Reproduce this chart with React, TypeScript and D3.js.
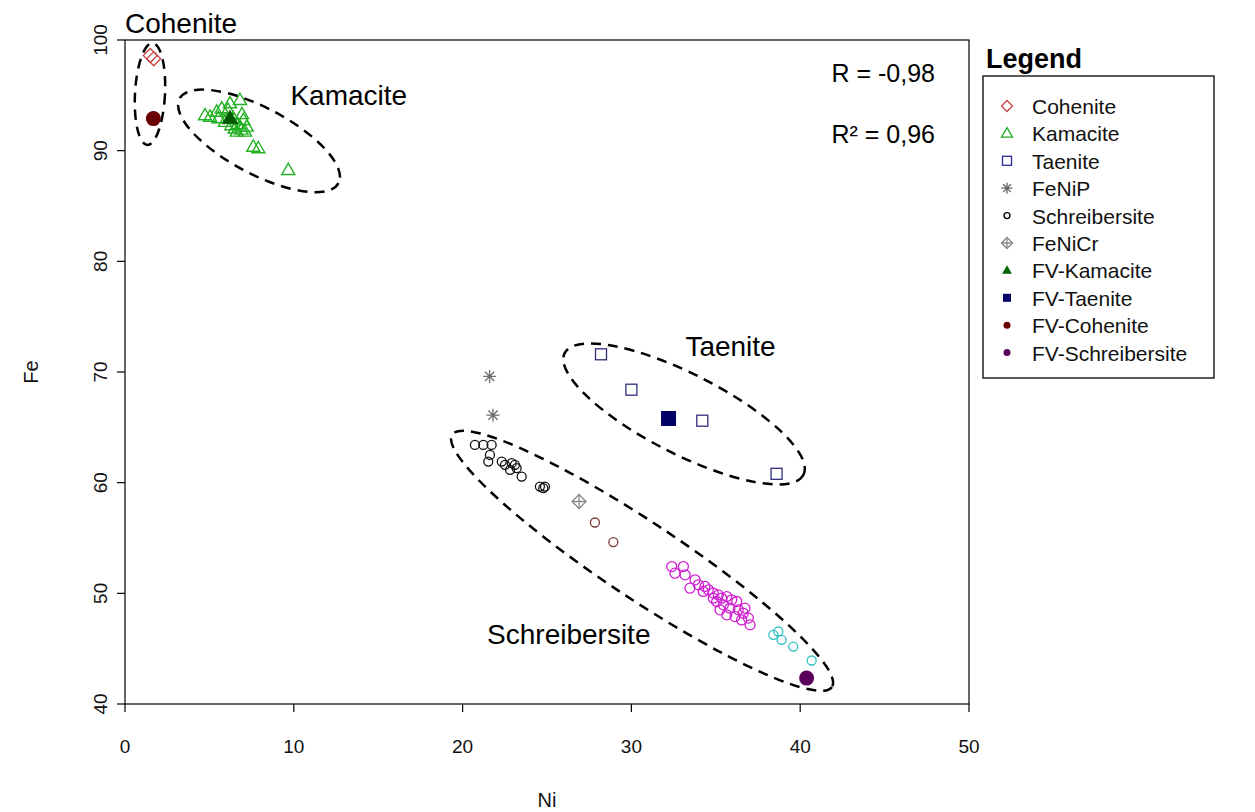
import React from 'react';
import * as d3 from 'd3';

const W = 1255;
const H = 812;

const xTicks = [0, 10, 20, 30, 40, 50];
const yTicks = [40, 50, 60, 70, 80, 90, 100];

type P = [number, number];

const cohenite: P[] = [[1.5, 98.6], [1.7, 98.3]];
const kamacite: P[] = [
  [5.04, 93.07], [5.43, 93.52], [5.73, 93.83], [6.22, 94.28], [6.81, 94.58],
  [5.53, 92.93], [6.42, 92.93], [7.01, 92.77], [6.81, 92.17], [7.21, 92.17],
  [6.62, 91.72], [7.11, 91.72], [7.6, 90.36], [7.9, 90.22], [9.67, 88.26],
  [5.92, 92.6], [6.69, 92.4], [4.74, 93.2], [6.1, 93.7], [6.93, 93.3],
  [6.5, 92.0], [6.3, 92.3], [6.9, 91.9],
];
const taenite: P[] = [[28.2, 71.6], [30.0, 68.4], [34.2, 65.6], [38.6, 60.8]];
const feNiP: P[] = [[21.6, 69.6], [21.8, 66.1]];
const schreibersite: P[] = [
  [20.73, 63.41], [21.23, 63.41], [21.72, 63.41], [21.62, 62.51], [21.52, 61.91],
  [22.32, 61.91], [22.51, 61.61], [22.81, 61.16], [23.1, 61.61], [23.2, 61.31],
  [22.91, 61.76], [23.5, 60.55], [24.58, 59.65], [24.88, 59.65], [24.78, 59.5],
];
const schreibersiteBrown: P[] = [[27.84, 56.4], [28.93, 54.63]];
const schreibersiteMagenta: P[] = [
  [32.39, 52.42], [33.08, 52.42], [32.58, 51.82], [33.18, 51.67], [33.77, 51.22],
  [33.97, 50.77], [33.47, 50.47], [34.26, 50.17], [34.56, 50.32], [34.85, 50.02],
  [35.15, 49.86], [35.35, 49.56], [35.65, 49.71], [35.94, 49.41], [36.24, 49.26],
  [35.05, 49.26], [35.45, 48.96], [35.84, 48.66], [36.33, 48.51], [36.73, 48.66],
  [35.65, 48.06], [36.14, 47.9], [36.53, 47.6], [36.93, 47.76], [37.03, 47.15],
  [34.36, 50.62], [34.85, 49.56], [36.63, 48.21], [35.25, 48.51],
];
const schreibersiteCyan: P[] = [[38.41, 46.25], [38.7, 46.55], [38.9, 45.8], [39.59, 45.19], [40.68, 43.93]];
const feNiCr: P[] = [[26.9, 58.3]];
const fvKamacite: P[] = [[6.22, 92.93]];
const fvTaenite: P[] = [[32.2, 65.8]];
const fvCohenite: P[] = [[1.68, 92.9]];
const fvSchreibersite: P[] = [[40.38, 42.34]];

const legendNames = ['Cohenite', 'Kamacite', 'Taenite', 'FeNiP', 'Schreibersite', 'FeNiCr', 'FV-Kamacite', 'FV-Taenite', 'FV-Cohenite', 'FV-Schreibersite'];

// annotation ellipses: center in data units
const ellipseCenters: P[] = [[1.48, 95.12], [7.94, 90.88], [33.12, 66.21], [30.63, 52.94]];
const ellipseNames = ['Cohenite', 'Kamacite', 'Taenite', 'Schreibersite'];
const labelPos: P[] = [[0, 100.65], [9.8, 94.15], [33.2, 71.45], [21.45, 45.45]];

const FONT = "'Liberation Sans', Arial, Helvetica, sans-serif";

type Shape = 'diamond' | 'triangle' | 'square' | 'asterisk' | 'circle' | 'diamondPlus' | 'triFill' | 'sqFill' | 'circFill';

function Marker({ shape, cx, cy, s, color, sw = 1.3 }: { shape: Shape; cx: number; cy: number; s: number; color: string; sw?: number }) {
  const h = s / 2;
  switch (shape) {
    case 'diamond':
      return <path d={`M${cx},${cy - h}L${cx + h},${cy}L${cx},${cy + h}L${cx - h},${cy}Z`} fill="none" stroke={color} strokeWidth={sw} />;
    case 'diamondPlus':
      return (
        <g stroke={color} strokeWidth={sw} fill="none">
          <path d={`M${cx},${cy - h}L${cx + h},${cy}L${cx},${cy + h}L${cx - h},${cy}Z`} />
          <path d={`M${cx - h},${cy}L${cx + h},${cy}M${cx},${cy - h}L${cx},${cy + h}`} />
        </g>
      );
    case 'triangle':
    case 'triFill': {
      const th = s * 0.866;
      const d = `M${cx},${cy - th * 0.6}L${cx + h},${cy + th * 0.4}L${cx - h},${cy + th * 0.4}Z`;
      return shape === 'triangle'
        ? <path d={d} fill="none" stroke={color} strokeWidth={sw} />
        : <path d={d} fill={color} stroke={color} strokeWidth={0.5} />;
    }
    case 'square':
      return <rect x={cx - h} y={cy - h} width={s} height={s} fill="none" stroke={color} strokeWidth={sw} />;
    case 'sqFill':
      return <rect x={cx - h} y={cy - h} width={s} height={s} fill={color} />;
    case 'circle':
      return <circle cx={cx} cy={cy} r={h} fill="none" stroke={color} strokeWidth={sw} />;
    case 'circFill':
      return <circle cx={cx} cy={cy} r={h} fill={color} />;
    case 'asterisk': {
      const d2 = h * 0.707;
      return (
        <path
          d={`M${cx - h},${cy}L${cx + h},${cy}M${cx},${cy - h}L${cx},${cy + h}M${cx - d2},${cy - d2}L${cx + d2},${cy + d2}M${cx - d2},${cy + d2}L${cx + d2},${cy - d2}`}
          stroke={color}
          strokeWidth={sw}
        />
      );
    }
  }
  return null;
}

const legendShapes: Shape[] = ['diamond', 'triangle', 'square', 'asterisk', 'circle', 'diamondPlus', 'triFill', 'sqFill', 'circFill', 'circFill'];
const legendColors = ['#cc4444', '#22aa22', '#2a2a99', '#666666', '#000000', '#888888', '#006400', '#000066', '#6b0000', '#5a005a'];
const legendSizes = [11, 11, 9, 11, 6, 11, 9, 8, 7, 7];

export default function App() {
  const x = d3.scaleLinear().domain([0, 50]).range([125, 969]);
  const y = d3.scaleLinear().domain([40, 100]).range([704, 40]);

  const ellipseR: [number, number, number][] = [
    [15, 51, 3],
    [90, 33, 28],
    [134, 40, 27],
    [228, 38, 33.6],
  ];

  const series: { data: P[]; shape: Shape; color: string; s: number; sw?: number }[] = [
    { data: cohenite, shape: 'diamond', color: '#cc4444', s: 14 },
    { data: kamacite, shape: 'triangle', color: '#22b022', s: 13, sw: 1.4 },
    { data: taenite, shape: 'square', color: '#2e2e7a', s: 11 },
    { data: feNiP, shape: 'asterisk', color: '#6e6e6e', s: 13 },
    { data: schreibersite, shape: 'circle', color: '#111111', s: 9 },
    { data: schreibersiteBrown, shape: 'circle', color: '#7a3a3a', s: 9 },
    { data: schreibersiteMagenta, shape: 'circle', color: '#d020d0', s: 10 },
    { data: schreibersiteCyan, shape: 'circle', color: '#30c0c0', s: 9 },
    { data: feNiCr, shape: 'diamondPlus', color: '#8a8a8a', s: 14 },
    { data: fvKamacite, shape: 'triFill', color: '#005a00', s: 16 },
    { data: fvTaenite, shape: 'sqFill', color: '#000066', s: 15 },
    { data: fvCohenite, shape: 'circFill', color: '#6b0000', s: 15 },
    { data: fvSchreibersite, shape: 'circFill', color: '#5a005a', s: 15 },
  ];

  const [x0, x1] = x.range();
  const [y0, y1] = y.range();

  return (
    <svg width={W} height={H} style={{ position: 'absolute', left: 0, top: 0, background: '#fff' }} fontFamily={FONT}>
      <rect x={0} y={0} width={W} height={H} fill="#fff" />
      {/* plot box */}
      <rect x={x0} y={y1} width={x1 - x0} height={y0 - y1} fill="none" stroke="#000" strokeWidth={1.2} />
      {/* x axis */}
      {xTicks.map((t) => (
        <g key={'xt' + t}>
          <line x1={x(t)} x2={x(t)} y1={y0} y2={y0 + 8} stroke="#000" strokeWidth={1.2} />
          <text x={x(t)} y={753} fontSize={19} textAnchor="middle" fill="#111">{t}</text>
        </g>
      ))}
      {/* y axis */}
      {yTicks.map((t) => (
        <g key={'yt' + t}>
          <line x1={x0 - 8} x2={x0} y1={y(t)} y2={y(t)} stroke="#000" strokeWidth={1.2} />
          <text transform={`translate(107,${y(t)}) rotate(-90)`} fontSize={19} textAnchor="middle" fill="#111">{t}</text>
        </g>
      ))}
      <text x={(x0 + x1) / 2} y={807} fontSize={20} textAnchor="middle" fill="#111">Ni</text>
      <text transform={`translate(38,${(y0 + y1) / 2}) rotate(-90)`} fontSize={20} textAnchor="middle" fill="#111">Fe</text>

      {/* points */}
      {series.map((sr, i) => (
        <g key={'s' + i}>
          {sr.data.map((d, j) => (
            <Marker key={j} shape={sr.shape} cx={x(d[0])} cy={y(d[1])} s={sr.s} color={sr.color} sw={sr.sw} />
          ))}
        </g>
      ))}

      {/* ellipses */}
      {ellipseCenters.map((c, i) => (
        <ellipse
          key={'e' + ellipseNames[i]}
          cx={0}
          cy={0}
          rx={ellipseR[i][0]}
          ry={ellipseR[i][1]}
          transform={`translate(${x(c[0])},${y(c[1])}) rotate(${ellipseR[i][2]})`}
          fill="none"
          stroke="#000"
          strokeWidth={2.5}
          strokeDasharray="10 7"
        />
      ))}

      {/* labels */}
      {ellipseNames.map((n, i) => (
        <text key={'l' + n} x={x(labelPos[i][0])} y={y(labelPos[i][1])} fontSize={28} fill="#000">{n}</text>
      ))}

      <text x={935} y={82} fontSize={25} textAnchor="end" fill="#000">R = -0,98</text>
      <text x={935} y={143} fontSize={25} textAnchor="end" fill="#000">R² = 0,96</text>

      {/* legend */}
      <text x={986} y={68} fontSize={27} fontWeight="bold" fill="#000">Legend</text>
      <rect x={983} y={76} width={231} height={302} fill="#fff" stroke="#000" strokeWidth={1.3} />
      {legendNames.map((n, i) => {
        const by = 114 + i * 27.4;
        return (
          <g key={'lg' + n}>
            <Marker shape={legendShapes[i]} cx={1007} cy={by - 8} s={legendSizes[i]} color={legendColors[i]} sw={1.3} />
            <text x={1032} y={by} fontSize={21} fill="#111">{n}</text>
          </g>
        );
      })}
    </svg>
  );
}
